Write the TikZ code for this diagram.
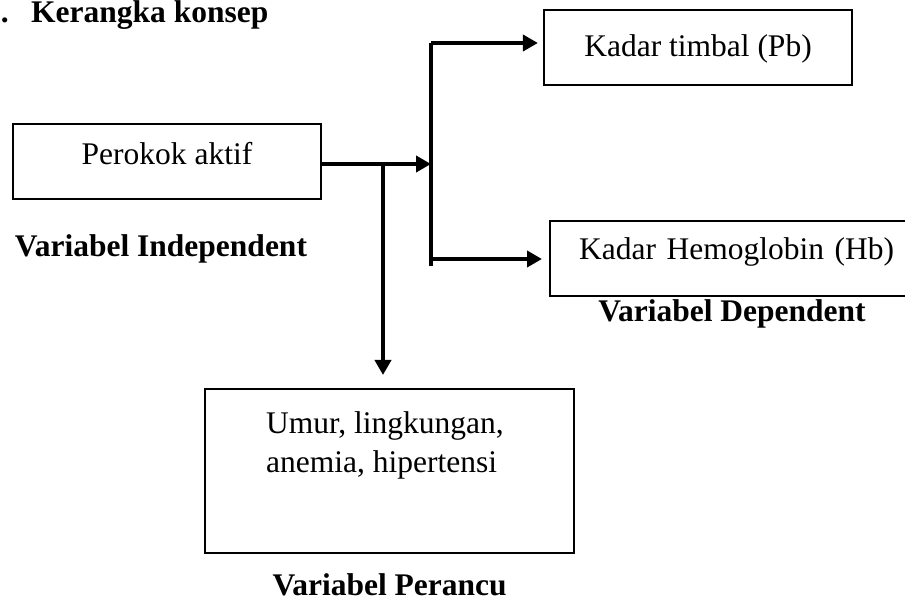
\documentclass[tikz,border=0pt]{standalone}
\usepackage{fontspec}
\setmainfont{Liberation Serif}
\usetikzlibrary{arrows.meta,calc}
\newcommand{\ukuranhuruf}{\fontsize{31.5}{39}\selectfont}
\tikzset{>={Triangle[length=15pt,width=16pt]}}
\tikzset{
  kotak/.style={draw,line width=2.2pt,inner sep=0pt},
  panah/.style={line width=4pt},
  judul/.style={font=\ukuranhuruf\bfseries,anchor=base,inner sep=0pt}
}

\begin{document}
\begin{tikzpicture}[x=1pt,y=-1pt,font=\ukuranhuruf]
\useasboundingbox (0,0) rectangle (905,601);

% judul
\node[judul,anchor=base east] (nomor) at (9,23) {B.};
\node[judul,anchor=base west] (kerangka) at (31,23) {Kerangka konsep};

% kotak variabel
\node[kotak,minimum width=308pt,text height=40pt,text depth=35pt,anchor=north] (perokok) at (167,123) {Perokok aktif};
\node[kotak,minimum width=308pt,text height=46pt,text depth=29pt,anchor=north] (timbal) at (698,9) {Kadar timbal (Pb)};
\node[kotak,text width=340pt,align=left,inner xsep=29pt,text height=38pt,text depth=37pt,anchor=north west] (hb) at (549,220) {Kadar Hemoglobin (Hb)};
\node[kotak,minimum width=369pt,minimum height=164pt,anchor=north west] (perancu) at (204,388) {};
\node[anchor=base west,align=left,inner sep=0pt] (faktor) at (266,472) {Umur, lingkungan,\\anemia, hipertensi};

\node[judul] (indep) at (161,257) {Variabel Independent};
\node[judul] (dep) at (732,322) {Variabel Dependent};
\node[judul] (bingung) at (perancu.south |- 0,595) {Variabel Perancu};

% panah
\coordinate (keluar) at (perokok.east |- 0,164);
\coordinate (cabang) at (431,164);
\coordinate (atas) at (431,43);
\coordinate (bawah) at (431,266);
\coordinate (kehb) at (431,259);
\coordinate (turun) at (383,162);
\coordinate (ujung) at ($(perancu.north -| turun)+(0,-13)$);

\draw[panah,->] (keluar) -- (cabang);
\draw[panah] (atas) -- (bawah);
\draw[panah,->,shorten >=5pt] (atas) -- (timbal.west |- atas);
\draw[panah,->,shorten >=7pt] (kehb) -- (hb.west |- kehb);
\draw[panah,->] (turun) -- (ujung);

\end{tikzpicture}
\end{document}
